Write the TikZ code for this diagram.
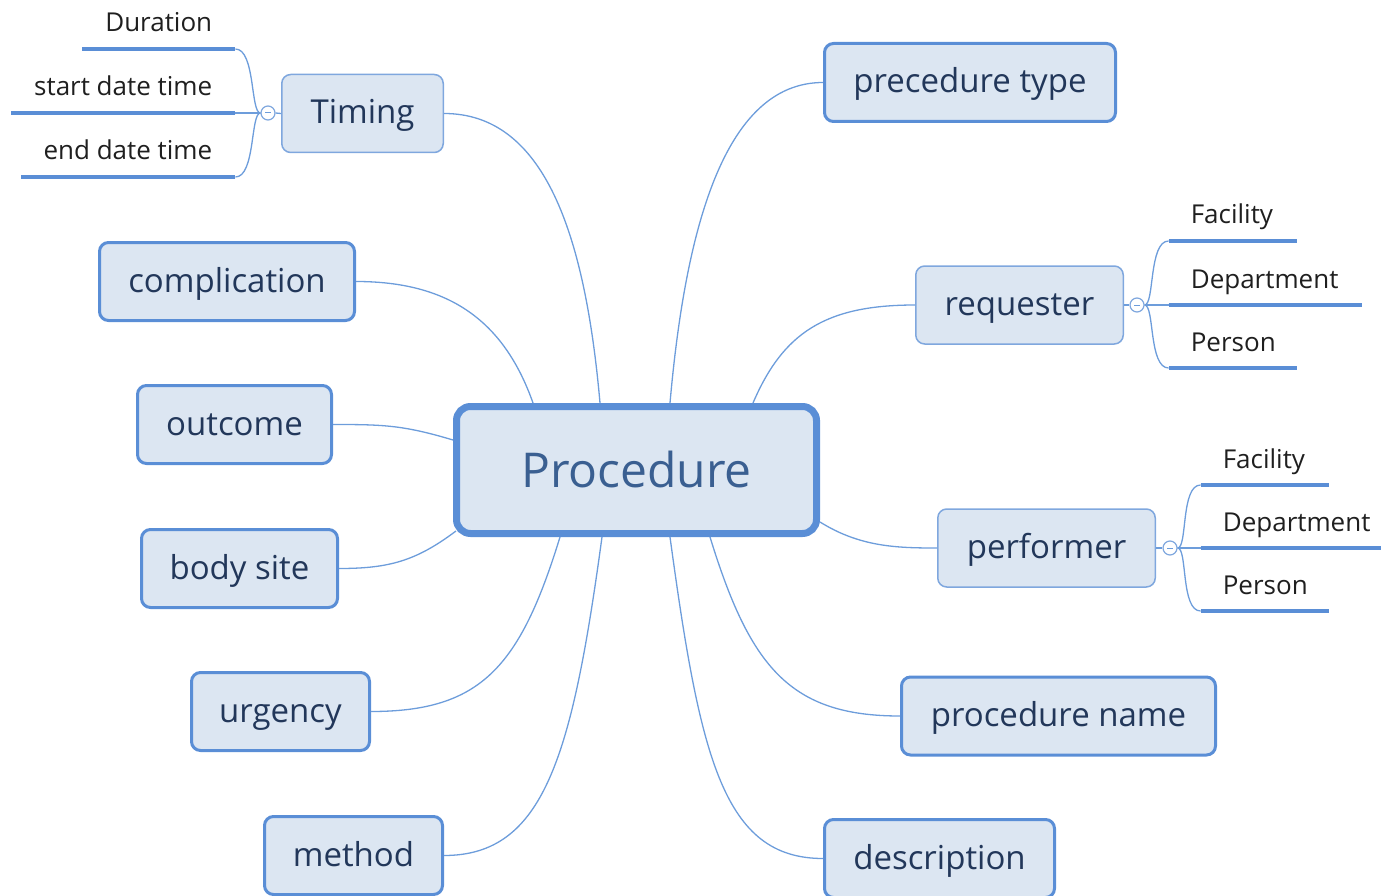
\documentclass[tikz,border=0pt]{standalone}
\usepackage{fontspec}
\setmainfont{Open Sans}
\usetikzlibrary{calc}

\definecolor{boxfill}{HTML}{DCE6F2}
\definecolor{boxline}{HTML}{5A8ED6}
\definecolor{boxthin}{HTML}{7FA7DE}
\definecolor{linkblue}{HTML}{6D9DDB}
\definecolor{topictext}{HTML}{22375A}
\definecolor{roottext}{HTML}{3A5F91}

\tikzset{
	topic/.style={draw=boxline, fill=boxfill, line width=3pt, rounded corners=9pt,
		minimum height=78pt, inner sep=0pt, text=topictext,
		font=\fontsize{33}{40}\selectfont, text height=30pt, text depth=9pt},
	parent/.style={topic, draw=boxthin, line width=1.5pt},
	link/.style={draw=linkblue, line width=1.3pt},
	leaf/.style={inner sep=0pt, text=black!88, font=\fontsize{26}{31}\selectfont},
	underline/.style={draw=boxline, line width=4pt},
	fold/.style={circle, draw=boxthin, fill=white, line width=1.2pt,
		minimum size=14pt, inner sep=0pt},
}

\begin{document}
\begin{tikzpicture}[x=1pt,y=-1pt]
	\useasboundingbox (0,0) rectangle (1381,896);

	% central topic
	\node[draw=boxline, fill=boxfill, line width=7pt, rounded corners=14pt,
		minimum width=360pt, minimum height=127pt, inner sep=0pt, text=roottext,
		font=\fontsize{48}{58}\selectfont, text height=44pt, text depth=10pt]
		(proc) at (636.5,470) {Procedure};

	% main topics
	\node[parent, minimum width=161.5pt] (timing) at (362.5,113.5) {Timing};
	\node[topic, minimum width=291pt] (type) at (970,82.5) {precedure type};
	\node[topic, minimum width=255pt] (complication) at (227,281.5) {complication};
	\node[parent, minimum width=207.5pt] (requester) at (1019.5,305) {requester};
	\node[topic, minimum width=194pt] (outcome) at (234.5,424.5) {outcome};
	\node[topic, minimum width=196pt] (bodysite) at (239.5,568.5) {body site};
	\node[parent, minimum width=217.5pt] (performer) at (1046.5,548) {performer};
	\node[topic, minimum width=178pt] (urgency) at (280.5,711.5) {urgency};
	\node[topic, minimum width=314pt] (procname) at (1058.5,716) {procedure name};
	\node[topic, minimum width=178pt] (method) at (353.5,855.5) {method};
	\node[topic, minimum width=230pt] (description) at (939.5,858.5) {description};

	% connectors from the centre
	\draw[link] ($(proc.north)+(-36.5,0)$) .. controls +(-15,-170) and +(100,0) .. (timing.east);
	\draw[link] ($(proc.north)+(33.5,0)$) .. controls +(15,-170) and +(-100,0) .. (type.west);
	\draw[link] ($(proc.north)+(-103.5,0)$) .. controls +(-30,-85) and +(90,0) .. (complication.east);
	\draw[link] ($(proc.north)+(116.5,0)$) .. controls +(30,-70) and +(-90,0) .. (requester.west);
	\draw[link] ($(proc.west)+(0,-30)$) .. controls +(-50,-15) and +(50,0) .. (outcome.east);
	\draw[link] ($(proc.south west)+(3,-6)$) .. controls +(-40,30) and +(50,0) .. (bodysite.east);
	\draw[link] ($(proc.east)+(0,52)$) .. controls +(40,25) and +(-40,0) .. (performer.west);
	\draw[link] ($(proc.south)+(-76.5,0)$) .. controls +(-40,130) and +(110,0) .. (urgency.east);
	\draw[link] ($(proc.south)+(73.5,0)$) .. controls +(40,130) and +(-110,0) .. (procname.west);
	\draw[link] ($(proc.south)+(-34.5,0)$) .. controls +(-30,220) and +(100,0) .. (method.east);
	\draw[link] ($(proc.south)+(33.5,0)$) .. controls +(30,220) and +(-100,0) .. (description.west);

	% Timing branch
	\node[fold] (timingfold) at (268,113) {};
	\draw[link] (timing.west) -- (timingfold.east);
	\draw[linkblue, line width=1pt] ($(timingfold.center)+(-3,0)$) -- ($(timingfold.center)+(3,0)$);
	\foreach \name/\text/\dy/\len in {dur/Duration/-64/153, start/start date time/0/224, end/end date time/64/214} {
		\coordinate (\name) at ($(timingfold.west)+(-25,\dy)$);
		\draw[link] (timingfold.west) .. controls +(-10,0) and +(20,0) .. (\name);
		\draw[underline] (\name) -- ++(-\len,0);
		\node[leaf, anchor=base east] (\name-text) at ($(\name)+(-23,-17)$) {\text};
	}

	% requester branch
	\node[fold] (reqfold) at (1137,305) {};
	\draw[link] (requester.east) -- (reqfold.west);
	\draw[linkblue, line width=1pt] ($(reqfold.center)+(-3,0)$) -- ($(reqfold.center)+(3,0)$);
	\foreach \name/\dy/\len in {Facility/-64/128, Department/0/193, Person/63/128} {
		\coordinate (req\name) at ($(reqfold.east)+(24,\dy)$);
		\draw[link] (reqfold.east) .. controls +(10,0) and +(-20,0) .. (req\name);
		\draw[underline] (req\name) -- ++(\len,0);
		\node[leaf, anchor=base west] (req\name-text) at ($(req\name)+(22,-17)$) {\name};
	}

	% performer branch
	\node[fold] (perffold) at (1170,548) {};
	\draw[link] (performer.east) -- (perffold.west);
	\draw[linkblue, line width=1pt] ($(perffold.center)+(-3,0)$) -- ($(perffold.center)+(3,0)$);
	\foreach \name/\dy/\len in {Facility/-63/128, Department/0/181, Person/63/128} {
		\coordinate (perf\name) at ($(perffold.east)+(23,\dy)$);
		\draw[link] (perffold.east) .. controls +(10,0) and +(-20,0) .. (perf\name);
		\draw[underline] (perf\name) -- ++(\len,0);
		\node[leaf, anchor=base west] (perf\name-text) at ($(perf\name)+(22,-17)$) {\name};
	}
\end{tikzpicture}
\end{document}
